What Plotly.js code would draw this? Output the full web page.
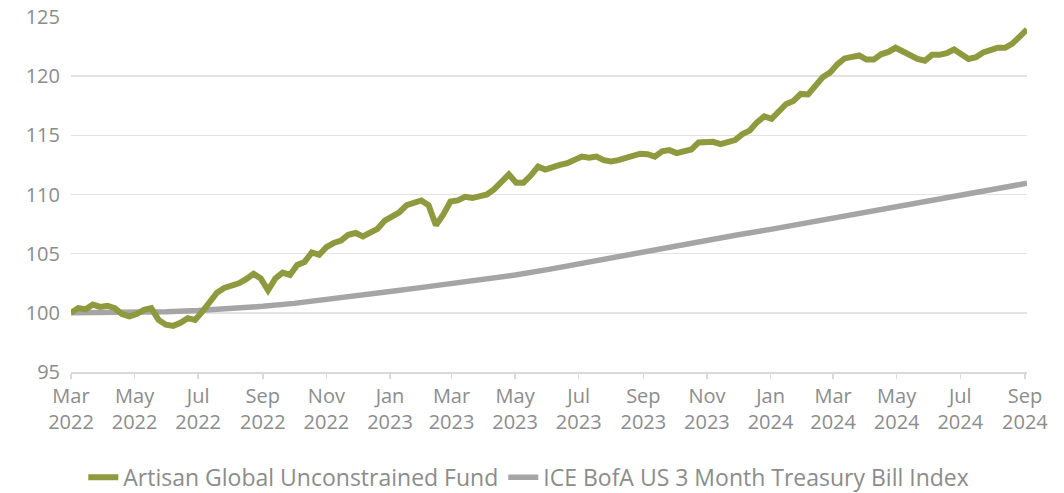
<!DOCTYPE html>
<html>
<head>
<meta charset="utf-8">
<script src="https://cdn.plot.ly/plotly-3.0.1.min.js"></script>
<style>
html,body{margin:0;padding:0;background:#fff;}
#chart{width:1064px;height:493px;}
</style>
</head>
<body>
<div id="chart"></div>
<script>
const fundDates = [
"2022-03-01","2022-03-08","2022-03-15","2022-03-22","2022-03-29",
"2022-04-05","2022-04-12","2022-04-19","2022-04-26",
"2022-05-03","2022-05-10","2022-05-17","2022-05-24","2022-05-31",
"2022-06-07","2022-06-14","2022-06-21","2022-06-28",
"2022-07-05","2022-07-12","2022-07-19","2022-07-26",
"2022-08-02","2022-08-09","2022-08-16","2022-08-23","2022-08-30",
"2022-09-06","2022-09-13","2022-09-20","2022-09-27",
"2022-10-04","2022-10-11","2022-10-18","2022-10-25",
"2022-11-01","2022-11-08","2022-11-15","2022-11-22","2022-11-29",
"2022-12-06","2022-12-13","2022-12-20","2022-12-27",
"2023-01-03","2023-01-10","2023-01-17","2023-01-24","2023-01-31",
"2023-02-07","2023-02-14","2023-02-21","2023-02-28",
"2023-03-07","2023-03-14","2023-03-21","2023-03-28",
"2023-04-04","2023-04-11","2023-04-18","2023-04-25",
"2023-05-02","2023-05-09","2023-05-16","2023-05-23","2023-05-30",
"2023-06-06","2023-06-13","2023-06-20","2023-06-27",
"2023-07-04","2023-07-11","2023-07-18","2023-07-25",
"2023-08-01","2023-08-08","2023-08-15","2023-08-22","2023-08-29",
"2023-09-05","2023-09-12","2023-09-19","2023-09-26",
"2023-10-03","2023-10-10","2023-10-17","2023-10-24","2023-10-31",
"2023-11-07","2023-11-14","2023-11-21","2023-11-28",
"2023-12-05","2023-12-12","2023-12-19","2023-12-26",
"2024-01-02","2024-01-09","2024-01-16","2024-01-23","2024-01-30",
"2024-02-06","2024-02-13","2024-02-20","2024-02-27",
"2024-03-05","2024-03-12","2024-03-19","2024-03-26",
"2024-04-02","2024-04-09","2024-04-16","2024-04-23","2024-04-30",
"2024-05-07","2024-05-14","2024-05-21","2024-05-28",
"2024-06-04","2024-06-11","2024-06-18","2024-06-25",
"2024-07-02","2024-07-09","2024-07-16","2024-07-23","2024-07-30",
"2024-08-06","2024-08-13","2024-08-20","2024-08-27",
"2024-09-03"
];
const fundValues = [
100.0,100.4,100.3,100.7,100.5,
100.6,100.4,99.9,99.7,
99.9,100.25,100.4,99.4,99.0,
98.9,99.15,99.55,99.4,
100.1,100.9,101.7,102.1,
102.25,102.5,102.85,103.3,102.9,
101.9,102.9,103.4,103.2,
104.05,104.3,105.1,104.9,
105.55,105.9,106.1,106.6,106.75,
106.45,106.75,107.1,107.8,
108.2,108.5,109.1,109.3,109.5,
109.1,107.4,108.3,109.4,
109.5,109.8,109.7,109.8,
110.0,110.45,111.1,111.7,
111.0,111.0,111.6,112.35,112.1,
112.35,112.5,112.65,112.9,
113.2,113.1,113.2,112.9,
112.8,112.9,113.1,113.35,113.45,
113.4,113.2,113.65,113.75,
113.5,113.65,113.8,114.4,114.4,
114.45,114.25,114.45,114.6,
115.1,115.4,116.1,116.6,
116.4,117.0,117.65,117.9,118.5,
118.45,119.1,119.9,120.3,
121.0,121.5,121.6,121.75,
121.4,121.4,121.85,122.05,122.4,
122.1,121.8,121.45,121.3,
121.8,121.8,121.95,122.25,
121.85,121.45,121.6,122.0,122.2,
122.4,122.4,122.75,123.35,
123.95
];
const tbillDates = [
"2022-03-01","2022-04-01","2022-05-01","2022-06-01","2022-07-01","2022-08-01",
"2022-09-01","2022-10-01","2022-11-01","2022-12-01","2023-01-01","2023-02-01",
"2023-03-01","2023-04-01","2023-05-01","2023-06-01","2023-07-01","2023-08-01",
"2023-09-01","2023-10-01","2023-11-01","2023-12-01","2024-01-01","2024-02-01",
"2024-03-01","2024-04-01","2024-05-01","2024-06-01","2024-07-01","2024-08-01",
"2024-09-01","2024-09-03"
];
const tbillValues = [
100.0,100.02,100.05,100.1,100.2,100.35,
100.55,100.8,101.1,101.45,101.8,102.15,
102.45,102.8,103.2,103.65,104.15,104.65,
105.15,105.65,106.1,106.6,107.05,107.55,
108.0,108.5,108.95,109.45,109.95,110.4,
110.9,110.95
];
const tickDates = ["2022-03-01","2022-05-01","2022-07-01","2022-09-01","2022-11-01","2023-01-01",
"2023-03-01","2023-05-01","2023-07-01","2023-09-01","2023-11-01","2024-01-01",
"2024-03-01","2024-05-01","2024-07-01","2024-09-01"];
const tickLabels = ["Mar<br>2022","May<br>2022","Jul<br>2022","Sep<br>2022","Nov<br>2022","Jan<br>2023",
"Mar<br>2023","May<br>2023","Jul<br>2023","Sep<br>2023","Nov<br>2023","Jan<br>2024",
"Mar<br>2024","May<br>2024","Jul<br>2024","Sep<br>2024"];
const seriesNames = ["Artisan Global Unconstrained Fund","ICE BofA US 3 Month Treasury Bill Index"];

const textColor = "#8c8c8c";
const traces = [
  {x: tbillDates, y: tbillValues, name: seriesNames[1], type: "scatter", mode: "lines",
   line: {color: "#a5a5a5", width: 5.5}, legendrank: 2},
  {x: fundDates, y: fundValues, name: seriesNames[0], type: "scatter", mode: "lines",
   line: {color: "#8e9a3d", width: 6, shape: "linear"}, legendrank: 1}
];
const layout = {
  width: 1064, height: 493,
  margin: {l: 71, r: 37, t: 17, b: 121, autoexpand: false},
  paper_bgcolor: "#fff", plot_bgcolor: "#fff",
  font: {family: "Open Sans, Noto Sans, sans-serif", size: 20, color: textColor},
  showlegend: true,
  legend: {orientation: "h", xref: "container", x: 0.497, xanchor: "center",
           yref: "container", y: 0.032, yanchor: "middle",
           font: {size: 23, color: textColor}, traceorder: "normal", itemwidth: 30},
  xaxis: {type: "date", range: ["2022-03-01", "2024-09-03"], automargin: false,
          tickmode: "array", tickvals: tickDates, ticktext: tickLabels,
          showgrid: false, showline: true, linecolor: "#d9d9d9", linewidth: 1.5,
          ticks: "outside", ticklen: 5, tickcolor: "#d9d9d9", tickwidth: 1.5,
          tickfont: {size: 20, color: textColor}, zeroline: false},
  yaxis: {range: [95, 125], tickmode: "array", tickvals: [95,100,105,110,115,120,125],
          showgrid: true, gridcolor: "#e3e3e3", gridwidth: 1.5, zeroline: false, automargin: false,
          showline: false, ticks: "", tickfont: {size: 20, color: textColor},
          ticklabelstandoff: 10}
};
Plotly.newPlot("chart", traces, layout, {displayModeBar: false, staticPlot: true});
</script>
</body>
</html>
